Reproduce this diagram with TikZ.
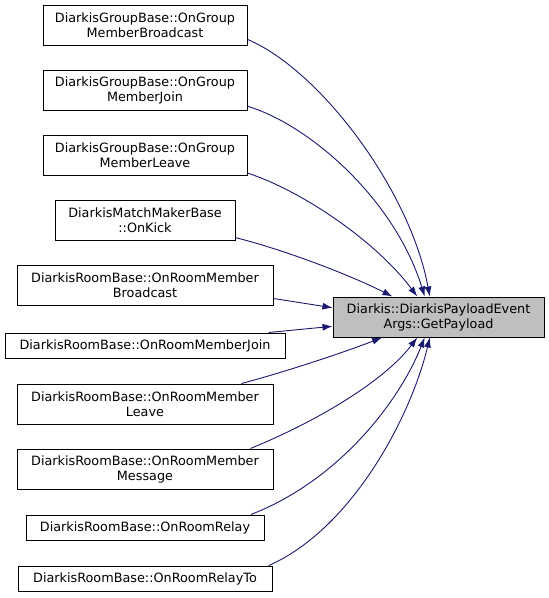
\documentclass[tikz,border=0pt]{standalone}
\usepackage{fontspec}
\setmainfont{DejaVu Sans}
\usetikzlibrary{arrows.meta}
\definecolor{edgeblue}{RGB}{25,25,112}
\definecolor{tgtgray}{RGB}{191,191,191}

\begin{document}
\begin{tikzpicture}[x = 1pt, y = -1pt,
        every node/.style = {font = \fontsize{12.8}{15}\selectfont, align = center, inner sep = 0pt},
        fn/.style = {draw, line width = 1pt, minimum height = 40pt},
        fnone/.style = {fn, minimum height = 25pt},
        call/.style = {-{Latex[length = 10pt, width = 7pt]}, edgeblue, line width = 0.9pt}]

        \useasboundingbox (0, 0) rectangle (549, 598);

        \node (tgt) at (438.5, 317) [fn, fill = tgtgray, minimum width = 211pt] {Diarkis::DiarkisPayloadEvent\\Args::GetPayload};

        \node (n1) at (145, 25) [fn, minimum width = 204pt] {DiarkisGroupBase::OnGroup\\MemberBroadcast};
        \node (n2) at (145, 90) [fn, minimum width = 204pt] {DiarkisGroupBase::OnGroup\\MemberJoin};
        \node (n3) at (145, 155) [fn, minimum width = 204pt] {DiarkisGroupBase::OnGroup\\MemberLeave};
        \node (n4) at (145, 220) [fn, minimum width = 180pt] {DiarkisMatchMakerBase\\::OnKick};
        \node (n5) at (145, 285) [fn, minimum width = 256pt] {DiarkisRoomBase::OnRoomMember\\Broadcast};
        \node (n6) at (145, 345.5) [fnone, minimum width = 280pt] {DiarkisRoomBase::OnRoomMemberJoin};
        \node (n7) at (145, 404) [fn, minimum width = 256pt] {DiarkisRoomBase::OnRoomMember\\Leave};
        \node (n8) at (145, 469) [fn, minimum width = 256pt] {DiarkisRoomBase::OnRoomMember\\Message};
        \node (n9) at (145, 527.5) [fnone, minimum width = 238pt] {DiarkisRoomBase::OnRoomRelay};
        \node (n10) at (145, 578.5) [fnone, minimum width = 254pt] {DiarkisRoomBase::OnRoomRelayTo};

        \draw [call] (n1.-8) .. controls (320, 70) and (410, 190) .. (tgt.113);
        \draw [call] (n2.-9) .. controls (310, 125) and (395, 200) .. (tgt.124);
        \draw [call] (n3.-10) .. controls (300, 190) and (375, 240) .. (tgt.136);
        \draw [call] (n4.-11) .. controls (285, 250) and (350, 275) .. (tgt.156);
        \draw [call] (n5.-6) -- (tgt.175);
        \draw [call] (n6.6) -- (tgt.185);
        \draw [call] (n7.12) .. controls (285, 372) and (345, 352) .. (tgt.200);
        \draw [call] (n8.11) .. controls (320, 420) and (385, 380) .. (tgt.224);
        \draw [call] (n9.7) .. controls (340, 480) and (400, 400) .. (tgt.236);
        \draw [call] (n10.6) .. controls (350, 530) and (410, 420) .. (tgt.247);

    \end{tikzpicture}
\end{document}
